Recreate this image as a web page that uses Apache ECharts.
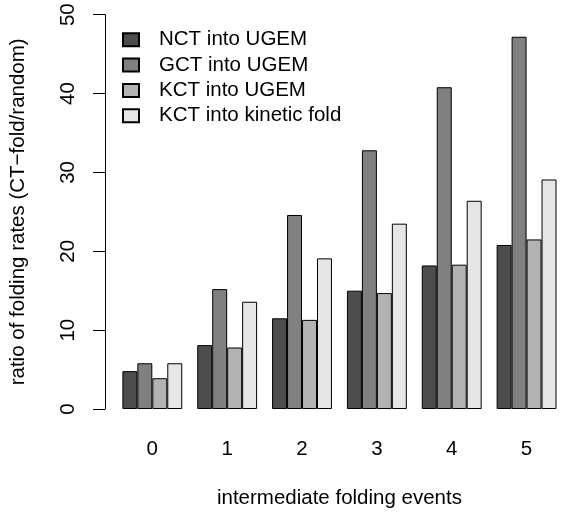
<!DOCTYPE html>
<html>
<head>
<meta charset="utf-8">
<script src="https://cdn.jsdelivr.net/npm/echarts@6/dist/echarts.min.js"></script>
<style>
html,body{margin:0;padding:0;background:#fff;}
#chart{width:564px;height:514px;}
</style>
</head>
<body>
<div id="chart"></div>
<script>
const categories = ['0', '1', '2', '3', '4', '5'];
const seriesNames = ['NCT into UGEM', 'GCT into UGEM', 'KCT into UGEM', 'KCT into kinetic fold'];
const nctUgem = [4.8, 8.1, 11.5, 15.0, 18.2, 20.8];
const gctUgem = [5.8, 15.2, 24.6, 32.8, 40.8, 47.2];
const kctUgem = [3.9, 7.8, 11.3, 14.7, 18.3, 21.5];
const kctKinetic = [5.8, 13.6, 19.1, 23.5, 26.4, 29.1];
const seriesColors = ['#4d4d4d', '#808080', '#b3b3b3', '#e6e6e6'];
const yTicks = [0, 10, 20, 30, 40, 50];

const FONT = 'Liberation Sans, Arial, Helvetica, sans-serif';
const FS = 20.5;
const values = [nctUgem, gctUgem, kctUgem, kctKinetic];

const chart = echarts.init(document.getElementById('chart'), null, {renderer: 'canvas'});
chart.setOption({
  animation: false,
  backgroundColor: '#ffffff',
  textStyle: {fontFamily: FONT},
  legend: {
    orient: 'vertical',
    left: 122,
    top: 29.3,
    padding: 0,
    itemWidth: 16,
    itemHeight: 13,
    itemGap: 4.3,
    icon: 'rect',
    data: seriesNames,
    textStyle: {fontFamily: FONT, fontSize: FS, lineHeight: 21, color: '#000', padding: [0, 0, 0, 15]}
  },
  grid: {left: 113.4, top: 14.67, width: 456, height: 399.67, containLabel: false},
  xAxis: {
    type: 'category',
    data: categories,
    name: 'intermediate folding events',
    nameLocation: 'middle',
    nameGap: 79,
    nameTextStyle: {fontFamily: FONT, fontSize: FS, color: '#000'},
    axisLine: {show: false},
    axisTick: {show: false},
    axisLabel: {fontFamily: FONT, fontSize: FS, color: '#000', margin: 30}
  },
  yAxis: {
    type: 'value',
    min: yTicks[0],
    max: yTicks[yTicks.length - 1],
    interval: 10,
    offset: 9.9,
    name: 'ratio of folding rates (CT\u2212fold/random)',
    nameLocation: 'middle',
    nameGap: 76,
    nameTextStyle: {fontFamily: FONT, fontSize: FS, color: '#000'},
    splitLine: {show: false},
    axisLine: {show: true, lineStyle: {color: '#000', width: 1}},
    axisTick: {show: true, length: 12, lineStyle: {color: '#000', width: 1}},
    axisLabel: {fontFamily: FONT, fontSize: FS, color: '#000', rotate: 90, margin: 26}
  },
  series: seriesNames.map((name, i) => ({
    name: name,
    type: 'bar',
    data: values[i],
    barGap: '0%',
    barCategoryGap: '20%',
    itemStyle: {color: seriesColors[i], borderColor: '#000', borderWidth: 1}
  }))
});
</script>
</body>
</html>
